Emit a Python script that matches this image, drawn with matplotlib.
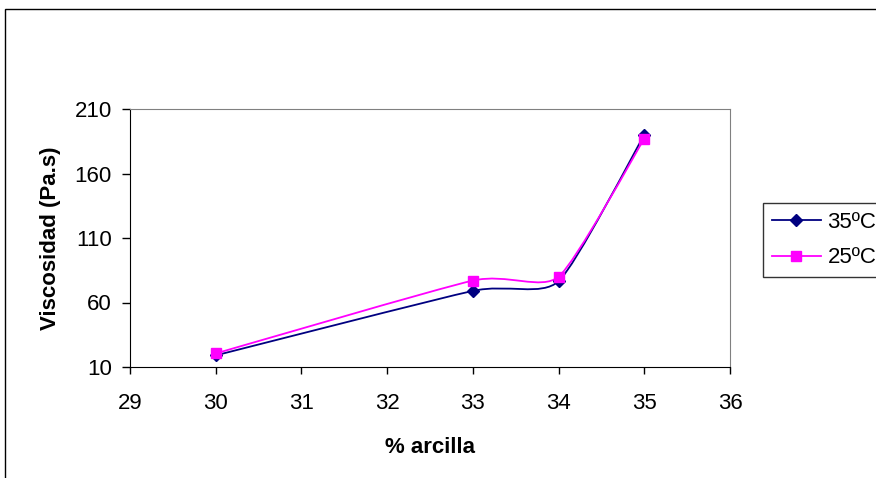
import matplotlib
matplotlib.use("Agg")
import matplotlib.pyplot as plt
from matplotlib.path import Path
from matplotlib.patches import PathPatch, Rectangle
import numpy as np

plt.rcParams['font.family'] = ['Liberation Sans', 'DejaVu Sans']

arcilla = [30, 33, 34, 35]
visc_35 = [19, 69, 76.5, 190]
visc_25 = [20.5, 77, 80, 187]
series = [("35ºC", visc_35, "#000080", "D"), ("25ºC", visc_25, "#FF00FF", "s")]

fig = plt.figure(figsize=(8.76, 4.78), dpi=100)
ax = fig.add_axes([130 / 876, 1 - 367 / 478, (730 - 130) / 876, (367 - 109) / 478])
ax.set_xlim(29, 36)
ax.set_ylim(10, 210)


def smooth_path(ax, xs, ys, t=0.1):
    # spline through the points, built in display space like a spreadsheet's smoothed line
    pts = ax.transData.transform(np.column_stack([xs, ys]))
    n = len(pts)
    verts = [pts[0]]
    codes = [Path.MOVETO]
    for i in range(n - 1):
        p0 = pts[max(i - 1, 0)]
        p1 = pts[i]
        p2 = pts[i + 1]
        p3 = pts[min(i + 2, n - 1)]
        c1 = p1 + (p2 - p0) * t
        c2 = p2 - (p3 - p1) * t
        verts += [c1, c2, p2]
        codes += [Path.CURVE4] * 3
    verts = ax.transData.inverted().transform(np.array(verts))
    return Path(verts, codes)


for label, vals, color, marker in series:
    ms = 6.5 if marker == "D" else 7
    ax.add_patch(PathPatch(smooth_path(ax, arcilla, vals), fill=False,
                           edgecolor=color, lw=1.3, zorder=2))
    ax.plot(arcilla, vals, linestyle="none", marker=marker, color=color,
            markersize=ms, zorder=3)
    ax.plot([], [], color=color, marker=marker, lw=1.3, markersize=ms, label=label)

ax.set_xticks(range(29, 37))
ax.set_yticks(range(10, 211, 50))
ax.tick_params(direction="out", labelsize=16, width=1)
ax.tick_params(axis="x", length=5, pad=14)
ax.tick_params(axis="y", length=6, pad=7)
for s in ["top", "right"]:
    ax.spines[s].set_color("#808080")
for s in ["left", "bottom"]:
    ax.spines[s].set_color("black")
ax.set_xlabel("% arcilla", fontsize=16, fontweight="bold", labelpad=16)
ax.set_ylabel("Viscosidad (Pa.s)", fontsize=16, fontweight="bold", labelpad=10)

leg = ax.legend(loc="upper left", bbox_to_anchor=(763 / 876, 1 - 203 / 478),
                bbox_transform=fig.transFigure, frameon=True, fancybox=False,
                fontsize=16, handlelength=2.2, borderaxespad=0, borderpad=0.4,
                labelspacing=0.65, handletextpad=0.3)
leg.get_frame().set_edgecolor("black")
leg.get_frame().set_linewidth(1)

# outer chart border
fig.patches.append(Rectangle((5 / 876, -0.1), 1.1, 1 - 9 / 478 + 0.1,
                             transform=fig.transFigure, fill=False,
                             edgecolor="black", lw=1))

fig.savefig("out.png", dpi=100)
